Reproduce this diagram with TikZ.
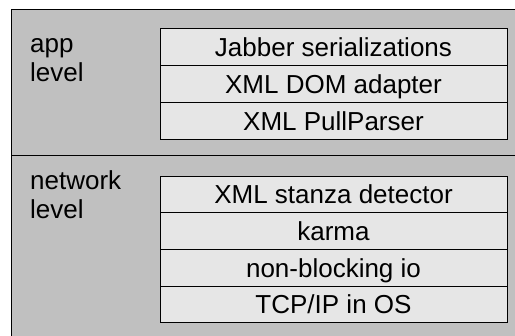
\documentclass[tikz,border=0pt]{standalone}
\usepackage{fontspec}
\setmainfont{Liberation Sans}
\definecolor{outerfill}{HTML}{C0C0C0}
\definecolor{rowfill}{HTML}{E6E6E6}
\begin{document}
\begin{tikzpicture}[x=1pt,y=-1pt,
  rowbox/.style={draw=black,line width=1pt,fill=rowfill,minimum width=347pt,minimum height=36.7pt,
    anchor=north west,inner sep=0pt,font=\fontsize{26pt}{29pt}\selectfont,text height=18.6pt,text depth=0pt},
  lvl/.style={anchor=base west,inner sep=0pt,align=left,font=\fontsize{26pt}{29pt}\selectfont}]
\useasboundingbox (0,0) rectangle (515,336);
\clip (0,0) rectangle (515,336);
\draw[fill=outerfill,line width=1pt] (11,9.5) rectangle (530,350);
\coordinate (dl) at (11,156);
\coordinate (dr) at (530,156);
\draw[line width=1pt] (dl) -- (dr);
\node[lvl] (app) at (30,82) {app\\level};
\node[lvl] (net) at (30,219) {network\\level};
\node[rowbox] (r1) at (159.5,28.5) {Jabber serializations};
\node[rowbox] (r2) at (159.5,65.2) {XML DOM adapter};
\node[rowbox] (r3) at (159.5,101.9) {XML PullParser};
\node[rowbox] (n1) at (159.5,175.7) {XML stanza detector};
\node[rowbox] (n2) at (159.5,212.4) {karma};
\node[rowbox] (n3) at (159.5,249.1) {non-blocking io};
\node[rowbox] (n4) at (159.5,285.8) {TCP/IP in OS};
\end{tikzpicture}
\end{document}
